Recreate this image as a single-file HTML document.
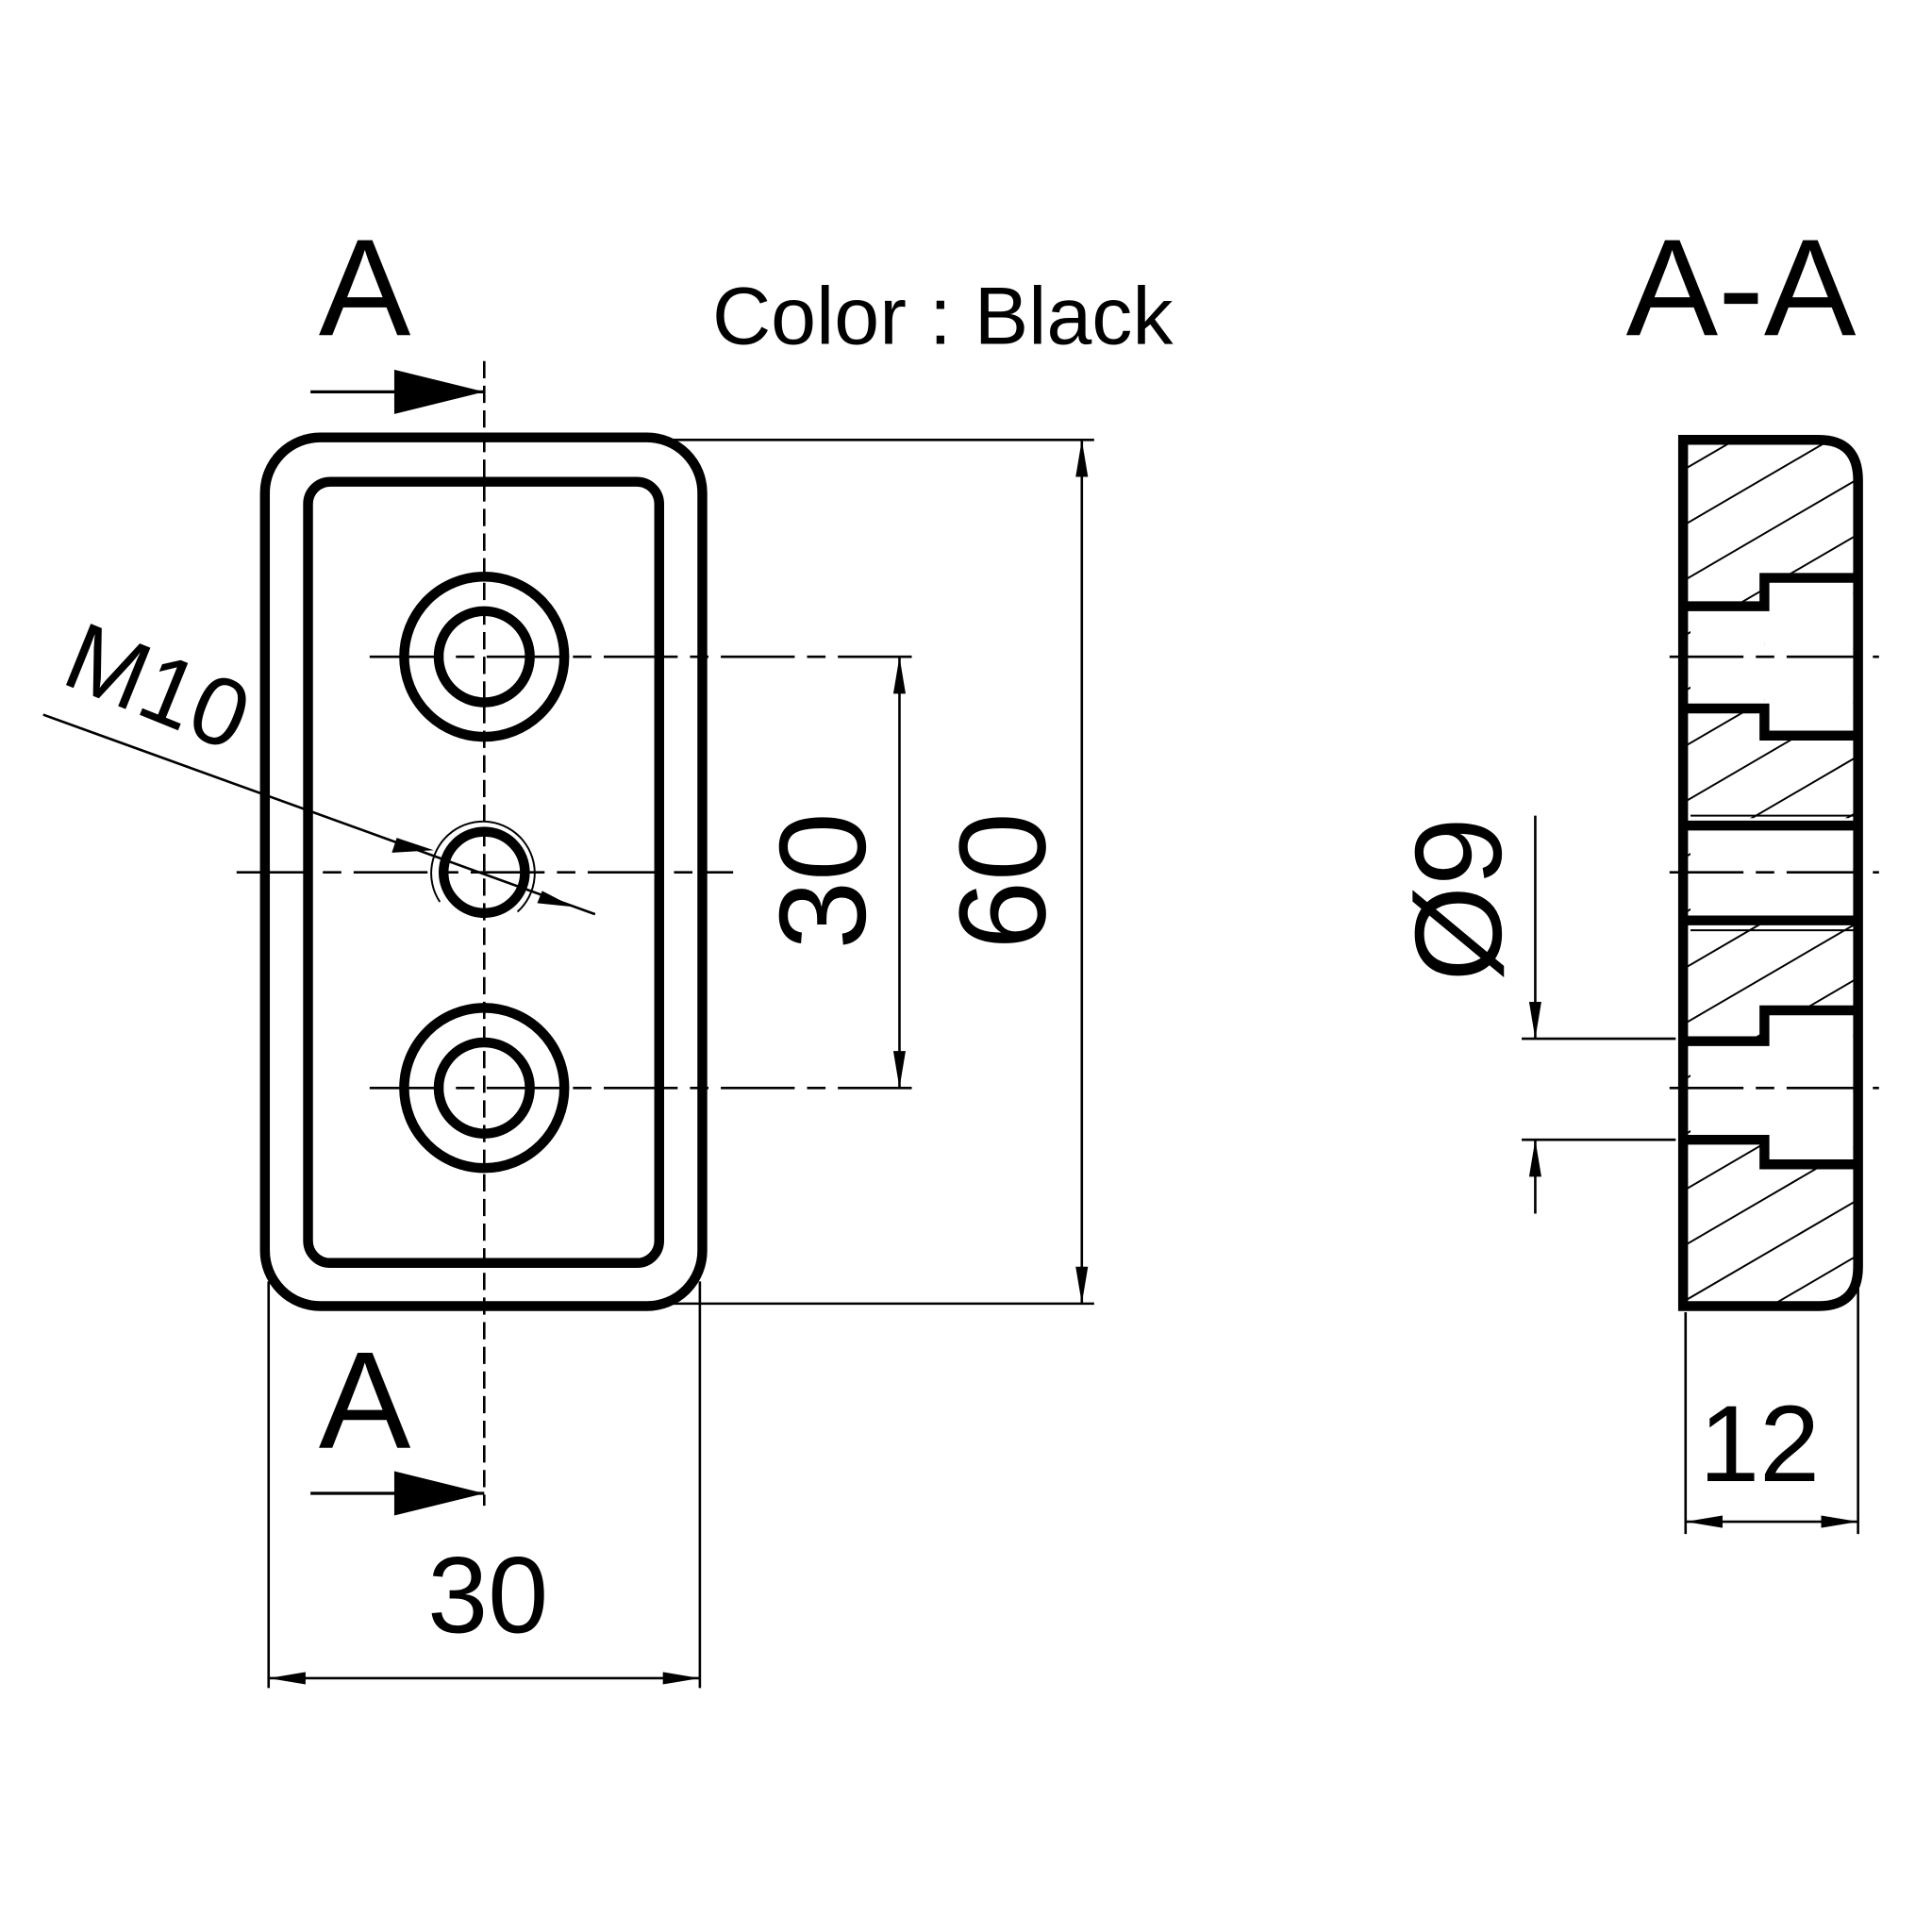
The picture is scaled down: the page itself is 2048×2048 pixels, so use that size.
<!DOCTYPE html>
<html><head><style>html,body{margin:0;padding:0;background:#fff}svg{display:block}</style></head>
<body>
<svg width="2048" height="2048" viewBox="0 0 1568 1568" xmlns="http://www.w3.org/2000/svg">
<defs>
<marker id="ar" viewBox="0 0 30 10" refX="30" refY="5" markerWidth="30" markerHeight="10" markerUnits="userSpaceOnUse" orient="auto-start-reverse"><path d="M0,0 L30,5 L0,10 Z" fill="#000"/></marker>
<clipPath id="sec"><path d="M1368,357 L1476,357 Q1508,357 1508,390 L1508,1028 Q1508,1060 1476,1060 L1368,1060 Z"/></clipPath>
</defs>
<g fill="none" stroke="#000" font-family="Liberation Sans, sans-serif">
<rect x="215" y="355" width="355" height="705" rx="45" stroke-width="8"/>
<rect x="250" y="391" width="285" height="634" rx="18" stroke-width="8"/>
<circle cx="393" cy="533" r="65" stroke-width="8"/>
<circle cx="393" cy="533" r="37" stroke-width="8"/>
<circle cx="393" cy="883" r="65" stroke-width="8"/>
<circle cx="393" cy="883" r="37" stroke-width="8"/>
<circle cx="393" cy="708" r="33" stroke-width="8"/>
<path d="M357,732 A42,42 0 1 1 420,740" stroke-width="1.5"/>
<line x1="393" y1="293" x2="393" y2="1222" stroke-width="2" stroke-dasharray="14,6"/>
<line x1="300" y1="533" x2="740" y2="533" stroke-width="2" stroke-dasharray="60,10,15,10"/>
<line x1="192" y1="708" x2="595" y2="708" stroke-width="2" stroke-dasharray="60,10,15,10"/>
<line x1="300" y1="883" x2="740" y2="883" stroke-width="2" stroke-dasharray="60,10,15,10"/>
<line x1="35" y1="580" x2="483" y2="742" stroke-width="2"/>
<path d="M322,680 L352,690 L318,692 Z" fill="#000" stroke="none"/>
<path d="M465,736 L440,723 L436,733 Z" fill="#000" stroke="none"/>
<line x1="252" y1="318" x2="393" y2="318" stroke-width="2.5"/>
<path d="M320,300 L393,318 L320,336 Z" fill="#000" stroke="none"/>
<line x1="252" y1="1212" x2="393" y2="1212" stroke-width="2.5"/>
<path d="M320,1194 L393,1212 L320,1230 Z" fill="#000" stroke="none"/>
<line x1="530" y1="357" x2="888" y2="357" stroke-width="2"/>
<line x1="530" y1="1058" x2="888" y2="1058" stroke-width="2"/>
<line x1="878" y1="357" x2="878" y2="1058" stroke-width="2" marker-start="url(#ar)" marker-end="url(#ar)"/>
<line x1="730" y1="533" x2="730" y2="883" stroke-width="2" marker-start="url(#ar)" marker-end="url(#ar)"/>
<line x1="218" y1="1040" x2="218" y2="1370" stroke-width="2"/>
<line x1="568" y1="1040" x2="568" y2="1370" stroke-width="2"/>
<line x1="218" y1="1362" x2="568" y2="1362" stroke-width="2" marker-start="url(#ar)" marker-end="url(#ar)"/>
<g clip-path="url(#sec)" stroke-width="1.5">
<path d="M1300,420 L1540,280 M1300,465 L1540,325 M1300,510 L1540,370 M1300,555 L1540,415 M1300,600 L1540,460 M1300,645 L1540,505 M1300,690 L1540,550 M1300,735 L1540,595 M1300,780 L1540,640 M1300,825 L1540,685 M1300,870 L1540,730 M1300,915 L1540,775 M1300,960 L1540,820 M1300,1005 L1540,865 M1300,1050 L1540,910 M1300,1095 L1540,955 M1300,1140 L1540,1000 M1300,1185 L1540,1045 M1300,1230 L1540,1090 M1300,1275 L1540,1135"/>
</g>
<g fill="#fff" stroke="none">
<rect x="1372" y="492" width="60" height="82"/><rect x="1432" y="469" width="72" height="126"/>
<rect x="1372" y="664" width="132" height="84"/>
<rect x="1372" y="845" width="60" height="78"/><rect x="1432" y="820" width="72" height="124"/>
</g>
<path d="M1366,357 L1476,357 Q1508,357 1508,390 L1508,1028 Q1508,1060 1476,1060 L1366,1060 Z" stroke-width="8"/>
<path d="M1366,492 L1432,492 L1432,469 L1505,469 M1366,575 L1432,575 L1432,597 L1505,597" stroke-width="8"/>
<path d="M1366,845 L1432,845 L1432,820 L1505,820 M1366,925 L1432,925 L1432,945 L1505,945" stroke-width="8"/>
<path d="M1366,670 L1505,670 M1366,747 L1505,747" stroke-width="8"/>
<path d="M1372,662 L1505,662 M1372,755 L1505,755" stroke-width="1.5"/>
<line x1="1355" y1="533" x2="1525" y2="533" stroke-width="2" stroke-dasharray="60,10,15,10"/>
<line x1="1355" y1="708" x2="1525" y2="708" stroke-width="2" stroke-dasharray="60,10,15,10"/>
<line x1="1355" y1="883" x2="1525" y2="883" stroke-width="2" stroke-dasharray="60,10,15,10"/>
<line x1="1368" y1="1065" x2="1368" y2="1245" stroke-width="2"/>
<line x1="1508" y1="1040" x2="1508" y2="1245" stroke-width="2"/>
<line x1="1368" y1="1235" x2="1508" y2="1235" stroke-width="2" marker-start="url(#ar)" marker-end="url(#ar)"/>
<line x1="1235" y1="843" x2="1360" y2="843" stroke-width="2"/>
<line x1="1235" y1="925" x2="1360" y2="925" stroke-width="2"/>
<line x1="1246" y1="662" x2="1246" y2="843" stroke-width="2" marker-end="url(#ar)"/>
<line x1="1246" y1="985" x2="1246" y2="925" stroke-width="2" marker-end="url(#ar)"/>
</g>
<g font-family="Liberation Sans, DejaVu Sans, sans-serif" fill="#000">
<text x="296" y="272" font-size="112" text-anchor="middle">A</text>
<text x="296" y="1175" font-size="112" text-anchor="middle">A</text>
<text x="1413" y="272" font-size="112" text-anchor="middle">A-A</text>
<text x="578" y="279" font-size="66">Color : Black</text>
<text x="396" y="1325" font-size="88" text-anchor="middle">30</text>
<text x="1428" y="1202" font-size="88" text-anchor="middle">12</text>
<text transform="translate(702,715) rotate(-90)" font-size="100" text-anchor="middle">30</text>
<text transform="translate(848,715) rotate(-90)" font-size="100" text-anchor="middle">60</text>
<text transform="translate(1218,730) rotate(-90)" font-size="100" text-anchor="middle">Ø9</text>
<text transform="translate(118,582) rotate(22)" font-size="78" text-anchor="middle">M10</text>
</g>
</svg>
</body></html>
